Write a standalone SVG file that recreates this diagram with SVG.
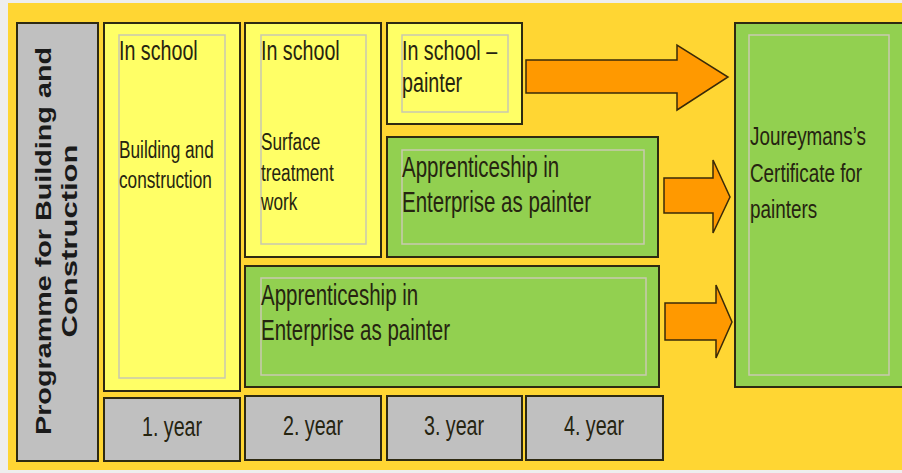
<svg xmlns="http://www.w3.org/2000/svg" width="902" height="473" viewBox="0 0 902 473">
<style>
.box{stroke:#2e2a12;stroke-width:2}
.yel{fill:#FFFF66}
.grn{fill:#92D050}
.gry{fill:#C0C0C0}
.inner{fill:none;stroke:#c9c9b0;stroke-width:1.5}
.arr{fill:#FF9900;stroke:#3a2a08;stroke-width:1.5;stroke-linejoin:miter}
.t{font-family:"Liberation Sans",Arial,sans-serif;fill:#262410}
.v{font-family:"Liberation Sans",Arial,sans-serif;font-weight:bold;font-size:22px;fill:#1a1a1a}
</style>
<rect x="0" y="0" width="902" height="473" fill="#eeeeee"/>
<rect x="8" y="3" width="894" height="467" fill="#FFD633"/>

<g id="programme">
<rect class="box gry" x="17" y="23" width="81" height="438"/>
<g transform="translate(0,241) rotate(-90)">
<text class="v" x="0" y="51" text-anchor="middle" textLength="388" lengthAdjust="spacingAndGlyphs">Programme for Building and</text>
<text class="v" x="0" y="77" text-anchor="middle" textLength="193" lengthAdjust="spacingAndGlyphs">Construction</text>
</g>
</g>

<g id="school1">
<rect class="box yel" x="104" y="23" width="136" height="368"/>
<rect class="inner" x="119" y="35" width="106" height="343"/>
<text class="t" font-size="24" transform="translate(119,60) scale(0.82,1.15)">In school</text>
<text class="t" font-size="21" transform="translate(119,158) scale(0.82,1.15)">Building and</text>
<text class="t" font-size="21" transform="translate(119,188) scale(0.82,1.15)">construction</text>
</g>

<g id="school2">
<rect class="box yel" x="245" y="23" width="136" height="234"/>
<rect class="inner" x="261" y="35" width="105" height="209"/>
<text class="t" font-size="24" transform="translate(261,60) scale(0.82,1.15)">In school</text>
<text class="t" font-size="21" transform="translate(261,150) scale(0.82,1.15)">Surface</text>
<text class="t" font-size="21" transform="translate(261,181) scale(0.82,1.15)">treatment</text>
<text class="t" font-size="21" transform="translate(261,210) scale(0.82,1.15)">work</text>
</g>

<g id="school3">
<rect class="box yel" x="387" y="23" width="135" height="101"/>
<rect class="inner" x="402" y="35" width="106" height="77"/>
<text class="t" font-size="24" transform="translate(402,60) scale(0.82,1.15)">In school –</text>
<text class="t" font-size="24" transform="translate(402,92) scale(0.82,1.15)">painter</text>
</g>

<g id="apprentice1">
<rect class="box grn" x="387" y="137" width="271" height="120"/>
<rect class="inner" x="402" y="150" width="242" height="94"/>
<text class="t" font-size="25" transform="translate(402,177) scale(0.82,1.15)">Apprenticeship in</text>
<text class="t" font-size="25" transform="translate(402,212) scale(0.82,1.15)">Enterprise as painter</text>
</g>

<g id="apprentice2">
<rect class="box grn" x="245" y="266" width="414" height="121"/>
<rect class="inner" x="261" y="278" width="385" height="97"/>
<text class="t" font-size="25" transform="translate(261,305) scale(0.82,1.15)">Apprenticeship in</text>
<text class="t" font-size="25" transform="translate(261,340) scale(0.82,1.15)">Enterprise as painter</text>
</g>

<g id="certificate">
<rect class="box grn" x="735" y="23" width="170" height="364"/>
<rect class="inner" x="749" y="35" width="140" height="340"/>
<text class="t" font-size="23" transform="translate(750,145) scale(0.82,1.15)">Joureymans’s</text>
<text class="t" font-size="23" transform="translate(750,182) scale(0.82,1.15)">Certificate for</text>
<text class="t" font-size="23" transform="translate(750,218) scale(0.82,1.15)">painters</text>
</g>

<g id="year1">
<rect class="box gry" x="104" y="398" width="136" height="63"/>
<text class="t" font-size="24" text-anchor="middle" transform="translate(172,436) scale(0.82,1.15)">1. year</text>
</g>
<g id="year2">
<rect class="box gry" x="245" y="396" width="136" height="64"/>
<text class="t" font-size="24" text-anchor="middle" transform="translate(313,435) scale(0.82,1.15)">2. year</text>
</g>
<g id="year3">
<rect class="box gry" x="387" y="396" width="135" height="64"/>
<text class="t" font-size="24" text-anchor="middle" transform="translate(454,435) scale(0.82,1.15)">3. year</text>
</g>
<g id="year4">
<rect class="box gry" x="526" y="396" width="137" height="64"/>
<text class="t" font-size="24" text-anchor="middle" transform="translate(594,435) scale(0.82,1.15)">4. year</text>
</g>

<g id="connectors">
<polygon class="arr" points="526,60 677,60 677,45 728,77 677,110 677,93 526,93"/>
<polygon class="arr" points="664,178 713,178 713,160 730,197 713,233 713,213 664,213"/>
<polygon class="arr" points="665,303 716,303 716,285 732,322 716,358 716,340 665,340"/>
</g>
</svg>
